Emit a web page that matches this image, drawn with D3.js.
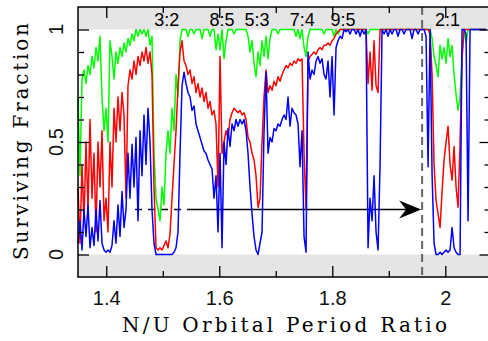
<!DOCTYPE html>
<html>
<head>
<meta charset="utf-8">
<script src="https://cdn.jsdelivr.net/npm/d3@7"></script>
<style>
  body { margin: 0; background: #fff; }
  svg { display: block; }
</style>
</head>
<body>
<div id="chart"></div>
<script>
// period ratio grid of the survival runs
var ratioStart = 1.35;
var ratioStep = 0.00354;

// surviving fraction, one value per grid step
var greenFrac = [
  0.70, 0.35, 0.78, 0.82, 0.76, 0.84, 0.80, 0.88, 0.83, 0.92,
  0.86, 0.97, 0.70, 0.55, 0.65, 0.50, 0.95, 0.88, 0.78, 0.90,
  0.85, 0.92, 0.88, 0.94, 0.90, 0.96, 0.93, 0.98, 0.95, 1.00,
  0.97, 1.00, 0.98, 1.00, 0.97, 1.00, 0.93, 0.97, 0.45, 0.25,
  0.20, 0.15, 0.30, 0.22, 0.45, 0.55, 0.45, 0.65, 0.55, 0.80,
  0.70, 0.95, 1.00, 1.00, 1.00, 0.97, 1.00, 1.00, 0.98, 1.00,
  1.00, 1.00, 0.96, 1.00, 1.00, 1.00, 0.97, 1.00, 1.00, 0.91,
  0.98, 0.91, 1.00, 0.87, 0.95, 1.00, 1.00, 1.00, 0.98, 1.00,
  1.00, 1.00, 1.00, 1.00, 1.00, 0.97, 0.90, 0.95, 0.85, 0.79,
  0.90, 0.84, 0.95, 0.88, 0.97, 0.87, 0.96, 1.00, 1.00, 1.00,
  0.98, 1.00, 1.00, 1.00, 1.00, 1.00, 1.00, 1.00, 1.00, 0.97,
  1.00, 0.96, 1.00, 0.92, 0.88, 0.97, 1.00, 1.00, 1.00, 1.00,
  1.00, 1.00, 1.00, 0.98, 1.00, 1.00, 1.00, 1.00, 0.97, 1.00,
  0.98, 1.00, 1.00, 1.00, 1.00, 1.00, 1.00, 1.00, 1.00, 1.00,
  1.00, 1.00, 1.00, 1.00, 1.00, 0.98, 1.00, 1.00, 1.00, 1.00,
  1.00, 1.00, 1.00, 1.00, 1.00, 1.00, 1.00, 1.00, 1.00, 1.00,
  1.00, 1.00, 1.00, 1.00, 1.00, 1.00, 1.00, 1.00, 1.00, 1.00,
  1.00, 1.00, 1.00, 1.00, 1.00, 1.00, 1.00, 0.96, 0.88, 0.84,
  0.79, 0.93, 0.87, 0.92, 0.85, 0.96, 0.88, 0.93, 0.80, 0.71,
  0.64, 0.70, 0.90, 1.00, 0.94, 1.00, 1.00, 1.00, 1.00, 1.00,
  1.00, 1.00, 1.00, 1.00, 1.00
];

var redFrac = [
  0.30, 0.05, 0.40, 0.15, 0.50, 0.20, 0.60, 0.25, 0.45, 0.10,
  0.50, 0.30, 0.55, 0.15, 0.25, 0.10, 0.50, 0.30, 0.65, 0.50,
  0.70, 0.55, 0.72, 0.62, 0.25, 0.75, 0.82, 0.78, 0.86, 0.80,
  0.88, 0.84, 0.90, 0.86, 0.92, 0.85, 0.90, 0.80, 0.30, 0.03,
  0.02, 0.03, 0.02, 0.04, 0.06, 0.03, 0.09, 0.25, 0.40, 0.55,
  0.75, 0.90, 0.95, 0.86, 0.84, 0.80, 0.82, 0.76, 0.79, 0.72,
  0.76, 0.70, 0.74, 0.68, 0.72, 0.65, 0.68, 0.62, 0.64, 0.58,
  0.30, 0.88, 0.45, 0.50, 0.55, 0.52, 0.60, 0.63, 0.65, 0.64,
  0.63, 0.64, 0.62, 0.63, 0.60, 0.52, 0.50, 0.45, 0.42, 0.35,
  0.21, 0.25, 0.50, 0.70, 0.82, 0.72, 0.75, 0.73, 0.77, 0.75,
  0.79, 0.77, 0.80, 0.82, 0.84, 0.83, 0.85, 0.84, 0.86, 0.85,
  0.87, 0.86, 0.87, 0.45, 0.20, 0.86, 0.88, 0.89, 0.90, 0.89,
  0.91, 0.92, 0.91, 0.93, 0.93, 0.94, 0.93, 0.95, 0.96, 0.98,
  0.99, 1.00, 1.00, 1.00, 1.00, 1.00, 1.00, 1.00, 1.00, 1.00,
  1.00, 1.00, 1.00, 1.00, 1.00, 0.76, 0.90, 0.73, 0.95, 0.75,
  0.72, 1.00, 1.00, 1.00, 1.00, 1.00, 1.00, 1.00, 1.00, 1.00,
  1.00, 1.00, 1.00, 1.00, 1.00, 1.00, 1.00, 1.00, 1.00, 1.00,
  1.00, 1.00, 1.00, 1.00, 1.00, 1.00, 0.98, 0.80, 0.40, 0.24,
  0.18, 0.12, 0.28, 0.42, 0.50, 0.57, 0.40, 0.33, 0.48, 0.30,
  0.21, 0.50, 0.87, 1.00, 1.00, 1.00, 1.00, 1.00, 1.00, 1.00,
  1.00, 1.00, 1.00, 1.00, 1.00
];

var blueFrac = [
  0.05, 0.15, 0.02, 0.20, 0.08, 0.22, 0.03, 0.12, 0.04, 0.20,
  0.06, 0.24, 0.05, 0.02, 0.01, 0.02, 0.01, 0.04, 0.15, 0.05,
  0.22, 0.08, 0.28, 0.12, 0.20, 0.45, 0.25, 0.49, 0.30, 0.52,
  0.15, 0.55, 0.35, 0.62, 0.40, 0.65, 0.50, 0.20, 0.05, 0.00,
  0.00, 0.00, 0.00, 0.00, 0.00, 0.00, 0.00, 0.00, 0.01, 0.03,
  0.10, 0.45, 0.75, 0.81, 0.76, 0.72, 0.70, 0.64, 0.66, 0.58,
  0.55, 0.52, 0.49, 0.46, 0.45, 0.42, 0.40, 0.38, 0.25, 0.35,
  0.10, 0.45, 0.03, 0.50, 0.40, 0.56, 0.48, 0.58, 0.55, 0.60,
  0.57, 0.60, 0.58, 0.60, 0.55, 0.45, 0.30, 0.18, 0.08, 0.02,
  0.00, 0.05, 0.10, 0.55, 0.81, 0.45, 0.52, 0.50, 0.56, 0.55,
  0.58, 0.57, 0.60, 0.62, 0.60, 0.70, 0.57, 0.65, 0.63, 0.62,
  0.58, 0.39, 0.55, 0.08, 0.01, 0.90, 0.78, 0.82, 0.80, 0.86,
  0.88, 0.85, 0.87, 0.80, 0.78, 0.86, 0.70, 0.88, 0.62, 0.92,
  0.95, 0.97, 0.96, 1.00, 0.99, 1.00, 0.98, 1.00, 1.00, 0.98,
  1.00, 0.97, 1.00, 0.98, 1.00, 0.03, 0.25, 0.15, 0.35, 0.10,
  0.02, 0.40, 1.00, 0.98, 1.00, 0.97, 1.00, 0.98, 1.00, 1.00,
  0.97, 1.00, 1.00, 0.98, 1.00, 1.00, 1.00, 0.96, 1.00, 1.00,
  0.98, 1.00, 1.00, 1.00, 0.97, 0.39, 1.00, 0.36, 0.05, 0.00,
  0.00, 0.01, 0.00, 0.01, 0.02, 0.01, 0.02, 0.12, 0.03, 0.01,
  0.00, 0.00, 1.00, 1.00, 0.98, 0.15, 1.00, 1.00, 1.00, 1.00,
  1.00, 1.00, 1.00, 1.00, 1.00
];

// resonance labels along the top band
var resonanceLabels = ["3:2", "8:5", "5:3", "7:4", "9:5", "2:1"];
var resonancePos = [1.507, 1.605, 1.667, 1.747, 1.819, 2.004];

// axis ticks
var xMajor = [1.4, 1.6, 1.8, 2.0];
var xMinor = [1.5, 1.7, 1.9];
var xTickLabels = ["1.4", "1.6", "1.8", "2"];
var yMajor = [0, 0.5, 1];
var yMinor = [0.1, 0.2, 0.3, 0.4, 0.6, 0.7, 0.8, 0.9];
var yTickLabels = ["0", "0.5", "1"];

// marker line and arrow
var markerRatio = 1.959;
var arrowFrac = 0.2;
var arrowStart = 1.451;
var arrowSolid = 1.545;

var svgWidth = 488;
var svgHeight = 341;

var svg = d3.select("#chart")
  .append("svg")
  .attr("width", svgWidth)
  .attr("height", svgHeight);

var x = d3.scaleLinear().domain([1.35, 2.08]).range([78, 490.5]);
var y = d3.scaleLinear().domain([-0.1, 1.1]).range([277, 7]);

// gray bands outside 0..1

svg.append("rect")
  .attr("x", x(1.35)).attr("y", y(1.1))
  .attr("width", x(2.08) - x(1.35)).attr("height", y(1) - y(1.1))
  .attr("fill", "#e5e5e5");

svg.append("rect")
  .attr("x", x(1.35)).attr("y", y(0))
  .attr("width", x(2.08) - x(1.35)).attr("height", y(-0.1) - y(0))
  .attr("fill", "#e5e5e5");

// arrow shaft (under the data)

svg.append("line")
  .attr("x1", x(arrowStart)).attr("x2", x(arrowSolid))
  .attr("y1", y(arrowFrac)).attr("y2", y(arrowFrac))
  .attr("stroke", "#000").attr("stroke-width", 1.5)
  .attr("stroke-dasharray", "7,6");

svg.append("line")
  .attr("x1", x(arrowSolid)).attr("x2", x(markerRatio) - 14)
  .attr("y1", y(arrowFrac)).attr("y2", y(arrowFrac))
  .attr("stroke", "#000").attr("stroke-width", 1.5);

// survival curves

var line = d3.line()
  .x(function (d, i) { return x(ratioStart + i * ratioStep); })
  .y(function (d) { return y(d); });

var series = [
  { vals: greenFrac, color: "#00ff00" },
  { vals: redFrac, color: "#ff0000" },
  { vals: blueFrac, color: "#0000ff" }
];

series.forEach(function (s) {
  svg.append("path")
    .datum(s.vals)
    .attr("d", line)
    .attr("fill", "none")
    .attr("stroke", s.color)
    .attr("stroke-width", 1.5)
    .attr("stroke-linejoin", "round");
});

// dashed marker

svg.append("line")
  .attr("x1", x(markerRatio)).attr("x2", x(markerRatio))
  .attr("y1", y(1.1)).attr("y2", y(-0.1))
  .attr("stroke", "#666").attr("stroke-width", 2)
  .attr("stroke-dasharray", "8,5");

// arrow head
var tipX = x(markerRatio) - 1;
var ay = y(arrowFrac);
svg.append("path")
  .attr("d", `M${tipX},${ay} L${tipX - 22},${ay - 9} L${tipX - 15},${ay} L${tipX - 22},${ay + 9} Z`)
  .attr("fill", "#000");

// frame

svg.append("rect")
  .attr("x", x(1.35)).attr("y", y(1.1))
  .attr("width", x(2.08) - x(1.35)).attr("height", y(-0.1) - y(1.1))
  .attr("fill", "none").attr("stroke", "#000").attr("stroke-width", 1.5);

// inward ticks on all four sides

function tickAxis(gen, tx, ty) {
  var g = svg.append("g")
    .attr("transform", `translate(${tx}, ${ty})`)
    .call(gen);
  g.select(".domain").remove();
  g.selectAll("line").attr("stroke", "#000").attr("stroke-width", 1.3);
  return g;
}

tickAxis(d3.axisBottom(x).tickValues(xMajor).tickSize(-11).tickFormat(""), 0, y(-0.1));
tickAxis(d3.axisBottom(x).tickValues(xMinor).tickSize(-6).tickFormat(""), 0, y(-0.1));
tickAxis(d3.axisTop(x).tickValues(xMajor).tickSize(-11).tickFormat(""), 0, y(1.1));
tickAxis(d3.axisTop(x).tickValues(xMinor).tickSize(-6).tickFormat(""), 0, y(1.1));
tickAxis(d3.axisLeft(y).tickValues(yMajor).tickSize(-11).tickFormat(""), x(1.35), 0);
tickAxis(d3.axisLeft(y).tickValues(yMinor).tickSize(-6).tickFormat(""), x(1.35), 0);
tickAxis(d3.axisRight(y).tickValues(yMajor).tickSize(-11).tickFormat(""), x(2.08), 0);
tickAxis(d3.axisRight(y).tickValues(yMinor).tickSize(-6).tickFormat(""), x(2.08), 0);

// x tick labels

var xLab = svg.append("g")
  .attr("transform", `translate(0, ${y(-0.1)})`)
  .call(d3.axisBottom(x).tickValues(xMajor).tickSize(0).tickPadding(14)
    .tickFormat(function (d, i) { return xTickLabels[i]; }));
xLab.select(".domain").remove();
xLab.attr("font-family", "Liberation Sans, Arial, sans-serif").attr("font-size", 20);
xLab.selectAll("text").attr("fill", "#111");

// y tick labels (rotated)

svg.selectAll(".ylab")
  .data(yMajor)
  .enter()
  .append("text")
  .attr("class", "ylab")
  .attr("transform", d => `translate(63, ${y(d)}) rotate(-90)`)
  .attr("text-anchor", "middle")
  .attr("font-family", "Liberation Sans, Arial, sans-serif")
  .attr("font-size", 20)
  .attr("fill", "#111")
  .text((d, i) => yTickLabels[i]);

// resonance labels

svg.selectAll(".res")
  .data(resonanceLabels)
  .enter()
  .append("text")
  .attr("class", "res")
  .attr("x", (d, i) => x(resonancePos[i]))
  .attr("y", 26)
  .attr("text-anchor", "middle")
  .attr("font-family", "Liberation Sans, Arial, sans-serif")
  .attr("font-size", 18)
  .attr("fill", "#000")
  .text(d => d);

// axis titles

svg.append("text")
  .attr("x", 122)
  .attr("y", 332)
  .attr("textLength", 325)
  .attr("lengthAdjust", "spacing")
  .attr("font-family", "DejaVu Serif, serif")
  .attr("font-size", 20)
  .attr("fill", "#000")
  .text("N/U Orbital Period Ratio");

svg.append("text")
  .attr("transform", "translate(28, 260) rotate(-90)")
  .attr("textLength", 237)
  .attr("lengthAdjust", "spacing")
  .attr("font-family", "DejaVu Serif, serif")
  .attr("font-size", 20)
  .attr("fill", "#000")
  .text("Surviving Fraction");
</script>
</body>
</html>
